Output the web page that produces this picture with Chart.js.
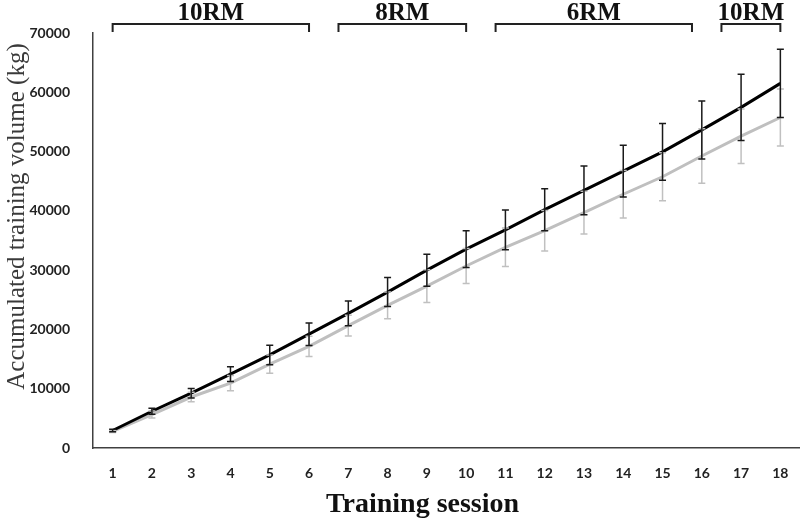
<!DOCTYPE html>
<html>
<head>
<meta charset="utf-8">
<script src="https://cdn.jsdelivr.net/npm/chart.js@4"></script>
<style>
  html, body { margin: 0; padding: 0; background: #fff; }
  #wrap { width: 800px; height: 523px; position: relative; }
</style>
</head>
<body>
<div id="wrap"><canvas id="volumeChart"></canvas></div>
<script>
// sessions on the x axis
const sessions = ['1','2','3','4','5','6','7','8','9','10','11','12','13','14','15','16','17','18'];

// black line: mean and SD
const volumeBlack = [2950, 6200, 9250, 12450, 15700, 19200, 22700, 26300, 30000, 33550, 36800, 40200, 43450, 46700, 49950, 53650, 57450, 61500];
const sdBlack = [200, 500, 800, 1250, 1650, 1900, 2100, 2450, 2700, 3100, 3350, 3550, 4100, 4350, 4800, 4900, 5600, 5750];

// grey line: mean and SD
const volumeGrey = [2800, 5650, 8600, 10950, 14150, 17150, 20650, 24050, 27300, 30700, 33850, 36650, 39700, 42800, 45750, 49250, 52600, 55750];
const sdGrey = [200, 600, 800, 1300, 1550, 1700, 1750, 2250, 2750, 2950, 3250, 3400, 3600, 4000, 4050, 4600, 4600, 4800];

// training phases shown as brackets above the plot (session numbers)
const phaseLabels = ['10RM', '8RM', '6RM', '10RM'];
const phaseStart = [1, 6.75, 10.75, 16.5];
const phaseEnd = [6, 10, 15.75, 18];

const yMin = 0, yMax = 70000, yStep = 10000;

const overlay = {
    id: 'overlay',
    afterDatasetsDraw(chart) {
        const ctx = chart.ctx;
        const x = chart.scales.x, y = chart.scales.y;

        function errBars(means, sds, color) {
            ctx.save();
            ctx.strokeStyle = color;
            ctx.lineWidth = 1.5;
            means.forEach((m, i) => {
                const px = x.getPixelForValue(i);
                const top = y.getPixelForValue(m + sds[i]);
                const bot = y.getPixelForValue(m - sds[i]);
                ctx.beginPath();
                ctx.moveTo(px, top); ctx.lineTo(px, bot);
                ctx.moveTo(px - 3.5, top); ctx.lineTo(px + 3.5, top);
                ctx.moveTo(px - 3.5, bot); ctx.lineTo(px + 3.5, bot);
                ctx.stroke();
            });
            ctx.restore();
        }
        errBars(volumeGrey, sdGrey, '#c0c0c0');
        errBars(volumeBlack, sdBlack, '#1a1a1a');
    },
    afterDraw(chart) {
        const ctx = chart.ctx;
        const area = chart.chartArea;
        const x = chart.scales.x;

        // phase brackets
        ctx.save();
        ctx.strokeStyle = '#222';
        ctx.lineWidth = 2;
        ctx.fillStyle = '#111';
        ctx.font = 'bold 25px "Liberation Serif"';
        ctx.textAlign = 'center';
        ctx.textBaseline = 'alphabetic';
        phaseLabels.forEach((lab, i) => {
            const x0 = x.getPixelForValue(phaseStart[i] - 1);
            const x1 = x.getPixelForValue(phaseEnd[i] - 1);
            ctx.beginPath();
            ctx.moveTo(x0, 32); ctx.lineTo(x0, 24); ctx.lineTo(x1, 24); ctx.lineTo(x1, 32);
            ctx.stroke();
            ctx.fillText(lab, (x0 + x1) / 2, 20);
        });
        ctx.restore();

        // axis titles
        ctx.save();
        ctx.fillStyle = '#3a3a3a';
        ctx.font = '25px "Liberation Serif"';
        ctx.textAlign = 'center';
        ctx.textBaseline = 'middle';
        ctx.translate(17, (area.top + area.bottom) / 2 - 24);
        ctx.rotate(-Math.PI / 2);
        ctx.fillText('Accumulated training volume (kg)', 0, 0);
        ctx.restore();

        ctx.save();
        ctx.fillStyle = '#111';
        ctx.font = 'bold 28px "Liberation Serif"';
        ctx.textAlign = 'center';
        ctx.textBaseline = 'middle';
        ctx.fillText('Training session', (area.left + area.right) / 2 - 24, 505);
        ctx.restore();
    }
};

new Chart(document.getElementById('volumeChart').getContext('2d'), {
    type: 'line',
    data: {
        labels: sessions,
        datasets: [{
            label: 'Group 1',
            data: volumeBlack,
            borderColor: '#000',
            borderWidth: 3,
            pointRadius: 0,
            tension: 0,
            fill: false
        }, {
            label: 'Group 2',
            data: volumeGrey,
            borderColor: '#bfbfbf',
            borderWidth: 3,
            pointRadius: 0,
            tension: 0,
            fill: false
        }]
    },
    options: {
        responsive: true,
        maintainAspectRatio: false,
        animation: false,
        layout: { padding: { top: 33, left: 0, right: 0, bottom: 0 } },
        plugins: {
            legend: { display: false },
            tooltip: { enabled: false }
        },
        scales: {
            x: {
                offset: true,
                grid: { display: false },
                border: { display: true, color: '#404040', width: 1.5 },
                ticks: {
                    color: '#222',
                    font: { family: 'Lato', weight: 'bold', size: 14 },
                    padding: 9,
                    maxRotation: 0,
                    autoSkip: false
                },
                afterFit(scale) { scale.height = 75; }
            },
            y: {
                min: yMin,
                max: yMax,
                grid: { display: false },
                border: { display: true, color: '#404040', width: 1.5 },
                ticks: {
                    stepSize: yStep,
                    color: '#222',
                    font: { family: 'Lato', weight: 'bold', size: 14 },
                    padding: 15,
                    callback: v => String(v)
                },
                afterFit(scale) { scale.width = 93; }
            }
        }
    },
    plugins: [overlay]
});
</script>
</body>
</html>
